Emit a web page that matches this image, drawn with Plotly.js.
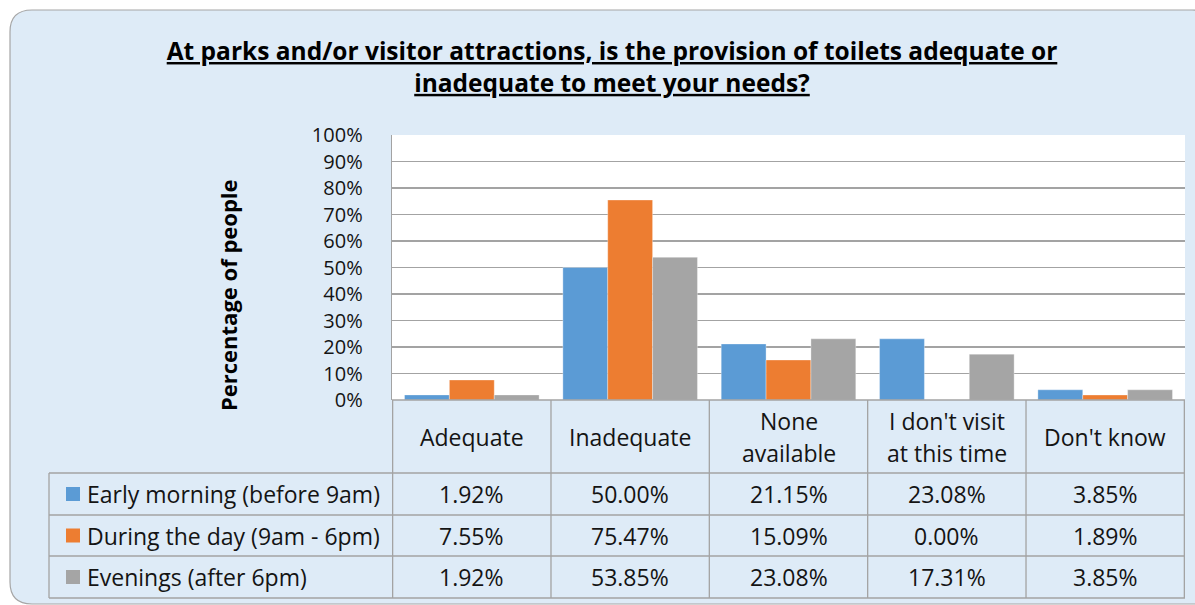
<!DOCTYPE html>
<html>
<head>
<meta charset="utf-8">
<script src="https://cdn.plot.ly/plotly-3.0.1.min.js"></script>
<style>
  html, body { margin: 0; padding: 0; background: #ffffff; }
  #chart { width: 1195px; height: 605px; }
</style>
</head>
<body>
<div id="chart"></div>
<script>
// ---- Data ----
const categories = ['Adequate', 'Inadequate', 'None<br>available', "I don't visit<br>at this time", "Don't know"];
const seriesNames = ['Early morning (before 9am)', 'During the day (9am - 6pm)', 'Evenings (after 6pm)'];
const earlyMorning = [1.92, 50.00, 21.15, 23.08, 3.85];
const duringDay = [7.55, 75.47, 15.09, 0.00, 1.89];
const evenings = [1.92, 53.85, 23.08, 17.31, 3.85];
const seriesColors = ['#5B9BD5', '#ED7D31', '#A5A5A5'];
const yTickVals = [0, 10, 20, 30, 40, 50, 60, 70, 80, 90, 100];
const titleText = 'At parks and/or visitor attractions, is the provision of toilets adequate or<br>inadequate to meet your needs?';
const yTitleText = 'Percentage of people';

// ---- Geometry (layout only) ----
const W = 1195, H = 605, L = 392, R = 10, T = 135, B = 205;
const plotW = W - L - R, plotH = H - T - B;
const px = x => (x - L) / plotW;
const py = y => (H - B - y) / plotH;

const FONT = '"Open Sans", "Noto Sans", sans-serif';
const TXT = '#141414';
const LINE = '#A3A3A3';
const FS = 23;
const allSeries = [earlyMorning, duringDay, evenings];

const traces = allSeries.map((vals, i) => ({
  type: 'bar',
  name: seriesNames[i],
  x: categories,
  y: vals,
  marker: { color: seriesColors[i], line: { color: 'rgba(255,255,255,0.55)', width: 0.6 } },
  hoverinfo: 'x+y+name'
}));

const shapes = [];
const annotations = [];

// outer rounded chart area
(function () {
  const x0 = 10, y0 = 10, x1 = 1214, y1 = 604, r = 22;
  const rx = r / plotW, ry = r / plotH;
  const X0 = px(x0), X1 = px(x1), Y0 = py(y0), Y1 = py(y1);
  const path = `M ${X0 + rx} ${Y0} L ${X1 - rx} ${Y0} Q ${X1} ${Y0} ${X1} ${Y0 - ry} ` +
    `L ${X1} ${Y1 + ry} Q ${X1} ${Y1} ${X1 - rx} ${Y1} L ${X0 + rx} ${Y1} Q ${X0} ${Y1} ${X0} ${Y1 + ry} ` +
    `L ${X0} ${Y0 - ry} Q ${X0} ${Y0} ${X0 + rx} ${Y0} Z`;
  shapes.push({ type: 'path', xref: 'paper', yref: 'paper', path: path, fillcolor: '#DEEBF7',
    line: { color: '#A6A6A6', width: 1.2 }, layer: 'below' });
})();
// white plot area
shapes.push({ type: 'rect', xref: 'paper', yref: 'paper', x0: 0, x1: 1, y0: 0, y1: 1,
  fillcolor: '#FFFFFF', line: { width: 0 }, layer: 'below' });

// table geometry
const headerTop = 400, rowTops = [473, 515, 556], tableBottom = 598, labelLeft = 49;
[headerTop, 473, 515, 556, tableBottom].forEach(y => {
  shapes.push({ type: 'line', xref: 'paper', yref: 'paper', x0: 0, x1: 1, y0: py(y), y1: py(y),
    line: { color: LINE, width: 1.3 }, layer: 'above' });
});
[473, 515, 556, tableBottom].forEach(y => {
  shapes.push({ type: 'line', xref: 'paper', yref: 'paper', x0: px(labelLeft), x1: 0, y0: py(y), y1: py(y),
    line: { color: LINE, width: 1.3 }, layer: 'above' });
});
shapes.push({ type: 'line', xref: 'paper', yref: 'paper', x0: px(labelLeft), x1: px(labelLeft),
  y0: py(473), y1: py(tableBottom), line: { color: LINE, width: 1.3 }, layer: 'above' });
for (let i = 0; i <= categories.length; i++) {
  shapes.push({ type: 'line', xref: 'x', yref: 'paper', x0: i - 0.5, x1: i - 0.5,
    y0: py(headerTop), y1: py(tableBottom), line: { color: LINE, width: 1.3 }, layer: 'above' });
}

// header labels
const headerCenter = 437, headerLineGap = 32;
categories.forEach((c, i) => {
  const lines = c.split('<br>');
  lines.forEach((ln, k) => {
    const yc = headerCenter + (k - (lines.length - 1) / 2) * headerLineGap;
    annotations.push({ xref: 'x', yref: 'paper', x: i, y: py(yc), text: ln, showarrow: false,
      xanchor: 'center', yanchor: 'middle', font: { family: FONT, size: FS, color: TXT } });
  });
});

// data rows
const rowCenters = rowTops.map((t, k) => (t + (k < 2 ? rowTops[k + 1] : tableBottom)) / 2);
allSeries.forEach((vals, s) => {
  const yc = rowCenters[s];
  shapes.push({ type: 'rect', xref: 'paper', yref: 'paper', x0: px(66), x1: px(80),
    y0: py(yc + 7), y1: py(yc - 7), fillcolor: seriesColors[s], line: { width: 0 }, layer: 'above' });
  annotations.push({ xref: 'paper', yref: 'paper', x: px(85), y: py(yc), text: seriesNames[s],
    showarrow: false, xanchor: 'left', yanchor: 'middle', font: { family: FONT, size: FS, color: TXT } });
  vals.forEach((v, i) => {
    annotations.push({ xref: 'x', yref: 'paper', x: i, y: py(yc), text: v.toFixed(2) + '%',
      showarrow: false, xanchor: 'center', yanchor: 'middle', font: { family: FONT, size: FS, color: TXT } });
  });
});

// y axis title
annotations.push({ xref: 'paper', yref: 'paper', x: px(228), y: py(295), text: '<b>' + yTitleText + '</b>',
  textangle: -90, showarrow: false, xanchor: 'center', yanchor: 'middle',
  font: { family: FONT, size: 22, color: '#000000' } });

const layout = {
  width: W, height: H,
  margin: { l: L, r: R, t: T, b: B, pad: 0 },
  paper_bgcolor: '#FFFFFF',
  plot_bgcolor: 'rgba(0,0,0,0)',
  title: {
    text: '<b><u>' + titleText + '</u></b>',
    xref: 'container', x: 612 / W, xanchor: 'center',
    yref: 'container', y: 1 - 60 / H, yanchor: 'top',
    font: { family: FONT, size: 24.5, color: '#000000' }
  },
  showlegend: false,
  barmode: 'group', bargap: 0.15, bargroupgap: 0,
  xaxis: { type: 'category', showticklabels: false, ticks: '', showgrid: false, zeroline: false,
    showline: false, fixedrange: true },
  yaxis: { range: [0, 100], tickvals: yTickVals, ticktext: yTickVals.map(v => v + '%'),
    showgrid: true, gridcolor: LINE, gridwidth: 1.3, zeroline: false, showline: true, linecolor: LINE,
    linewidth: 1.3, ticks: '', ticklabelstandoff: 24,
    tickfont: { family: FONT, size: 20, color: TXT }, fixedrange: true },
  shapes: shapes,
  annotations: annotations
};

Plotly.newPlot('chart', traces, layout, { displayModeBar: false, staticPlot: true });
</script>
</body>
</html>
